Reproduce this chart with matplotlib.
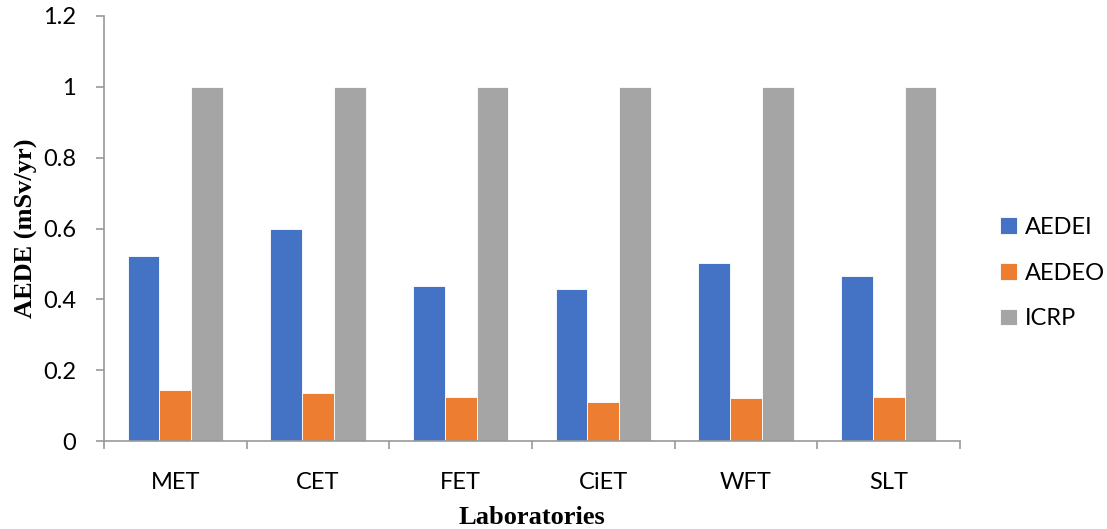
import matplotlib
matplotlib.use("Agg")
import matplotlib.pyplot as plt
import numpy as np

# Chart data
labs = ["MET", "CET", "FET", "CiET", "WFT", "SLT"]
aedei = [0.521, 0.598, 0.439, 0.430, 0.504, 0.467]
aedeo = [0.144, 0.135, 0.125, 0.110, 0.122, 0.125]
icrp = [1, 1, 1, 1, 1, 1]
series_names = ["AEDEI", "AEDEO", "ICRP"]
y_ticks = [0, 0.2, 0.4, 0.6, 0.8, 1, 1.2]
y_tick_labels = ["0", "0.2", "0.4", "0.6", "0.8", "1", "1.2"]

colors = ["#4472C4", "#ED7D31", "#A5A5A5"]
tick_font = "Lato"
fs = 17

fig = plt.figure(figsize=(11.07, 5.29), dpi=100)
ax = fig.add_axes([104 / 1107, 1 - 441 / 529, 856 / 1107, 425 / 529])

x = np.arange(len(labs))
w = 0.222
for i, (vals, name) in enumerate(zip([aedei, aedeo, icrp], series_names)):
    ax.bar(x + (i - 1) * w, vals, width=w, color=colors[i], label=name,
           edgecolor="white", linewidth=0.6, zorder=2)

# Axes limits and ticks
ax.set_xlim(-0.5, len(labs) - 0.5)
ax.set_ylim(0, 1.2)
ax.set_yticks(y_ticks)
ax.set_yticklabels(y_tick_labels, fontfamily=tick_font, fontsize=fs)
ax.set_xticks(x)
ax.set_xticklabels(labs, fontfamily=tick_font, fontsize=fs)
ax.tick_params(axis="x", length=0, pad=22)
ax.tick_params(axis="y", length=6, color="#999999", pad=14, width=1.2)

# category boundary ticks on the x axis
ax.set_xticks(np.arange(len(labs) + 1) - 0.5, minor=True)
ax.tick_params(axis="x", which="minor", length=6, color="#999999", width=1.2)

for side in ["top", "right"]:
    ax.spines[side].set_visible(False)
for side in ["left", "bottom"]:
    ax.spines[side].set_color("#999999")
    ax.spines[side].set_linewidth(1.2)

# Axis titles
ax.set_ylabel("AEDE (mSv/yr)", fontfamily="Liberation Serif", fontweight="bold",
              fontsize=19, labelpad=3.5)
ax.set_xlabel("Laboratories", fontfamily="Liberation Serif", fontweight="bold",
              fontsize=19, labelpad=10)

# Legend on the right
leg = ax.legend(loc="center left", bbox_to_anchor=(1.022, 0.395), frameon=False,
                prop={"family": tick_font, "size": fs}, handlelength=0.7,
                handleheight=0.7, handletextpad=0.35, labelspacing=1.05)

fig.savefig("out.png", dpi=100)
